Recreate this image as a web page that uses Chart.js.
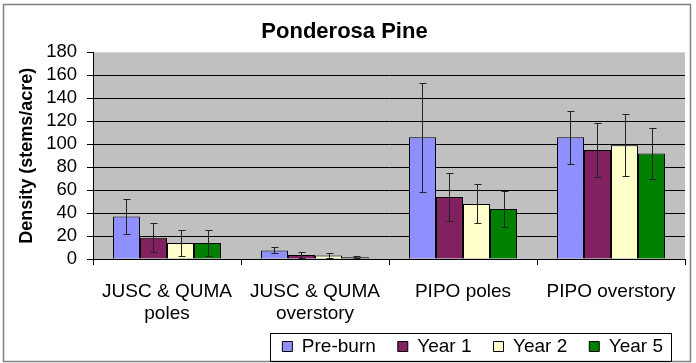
<!DOCTYPE html>
<html>
<head>
<meta charset="utf-8">
<script src="https://cdn.jsdelivr.net/npm/chart.js@4"></script>
<style>
  body { margin: 0; background: #fff; }
  #wrap { width: 696px; height: 363px; }
</style>
</head>
<body>
<div id="wrap"><canvas id="myChart" width="696" height="363"></canvas></div>
<script>
'use strict';

let categories = [['JUSC & QUMA', 'poles'], ['JUSC & QUMA', 'overstory'], 'PIPO poles', 'PIPO overstory'];
let seriesNames = ['Pre-burn', 'Year 1', 'Year 2', 'Year 5'];

let preBurn = [37, 7.5, 106, 106];
let year1 = [18.5, 3.5, 54, 95];
let year2 = [14, 3, 48, 99];
let year5 = [14, 1.5, 43.5, 92];

// +/- error amounts
let preBurnErr = [15, 2.7, 47.5, 23];
let year1Err = [12.5, 2.3, 21, 23.5];
let year2Err = [11.5, 2.5, 17, 27];
let year5Err = [11.5, 1, 15.5, 22.5];

let yTicks = [0, 20, 40, 60, 80, 100, 120, 140, 160, 180];

let allValues = [preBurn, year1, year2, year5];
let allErrors = [preBurnErr, year1Err, year2Err, year5Err];
let fills = ['#8f8fff', '#82215f', '#ffffcc', '#008000'];

let FONT = "'Liberation Sans', Arial, sans-serif";

// gray plot area + outer frame
let backdrop = {
  id: 'backdrop',
  afterLayout(chart) {
    // legend sits a bit higher, inside the axis label space
    chart.legend.top -= 8;
    chart.legend.bottom -= 8;
  },
  beforeDraw(chart) {
    let ctx = chart.ctx;
    let a = chart.chartArea;
    ctx.save();
    ctx.fillStyle = '#c0c0c0';
    ctx.fillRect(a.left, a.top, a.right - a.left, a.bottom - a.top);
    ctx.strokeStyle = '#808080';
    ctx.lineWidth = 1.5;
    ctx.strokeRect(3.5, 4.5, 687, 357);
    ctx.restore();
  }
};

let errorBars = {
  id: 'errorBars',
  afterDatasetsDraw(chart) {
    let ctx = chart.ctx;
    let y = chart.scales.y;
    ctx.save();
    ctx.strokeStyle = '#222';
    ctx.lineWidth = 1;
    chart.data.datasets.forEach(function(ds, i) {
      let meta = chart.getDatasetMeta(i);
      meta.data.forEach(function(bar, j) {
        let v = ds.data[j];
        let e = allErrors[i][j];
        let x = Math.round(bar.x) + 0.5;
        let top = Math.round(y.getPixelForValue(v + e)) + 0.5;
        let bot = Math.round(y.getPixelForValue(Math.max(v - e, 0))) + 0.5;
        ctx.beginPath();
        ctx.moveTo(x, top); ctx.lineTo(x, bot);
        ctx.moveTo(x - 3, top); ctx.lineTo(x + 4, top);
        ctx.moveTo(x - 3, bot); ctx.lineTo(x + 4, bot);
        ctx.stroke();
      });
    });
    ctx.restore();
  }
};

// box round the legend
let legendFrame = {
  id: 'legendFrame',
  afterDraw(chart) {
    let hb = chart.legend.legendHitBoxes;
    if (!hb || !hb.length) return;
    let last = hb[hb.length - 1];
    let left = Math.round(hb[0].left - 12) + 0.5;
    let right = Math.round(last.left + last.width + 8) + 0.5;
    let mid = hb[0].top + hb[0].height / 2;
    let ctx = chart.ctx;
    ctx.save();
    ctx.strokeStyle = '#000';
    ctx.lineWidth = 1;
    ctx.strokeRect(left, Math.round(mid - 14) + 0.5, right - left, 28);
    ctx.restore();
  }
};

let datasets = [];
for (let i = 0; i < seriesNames.length; i++) {
  datasets.push({
    label: seriesNames[i],
    data: allValues[i],
    backgroundColor: fills[i],
    borderColor: '#000',
    borderWidth: 1,
    categoryPercentage: 0.73,
    barPercentage: 1
  });
}

let ctx = document.getElementById('myChart').getContext('2d');
let myChart = new Chart(ctx, {
  type: 'bar',
  data: { labels: categories, datasets: datasets },
  plugins: [backdrop, errorBars, legendFrame],
  options: {
    responsive: false,
    animation: false,
    layout: { padding: { left: 4, right: 11, top: 0, bottom: 0 } },
    plugins: {
      title: {
        display: true,
        text: 'Ponderosa Pine',
        color: '#000',
        font: { family: FONT, size: 22, weight: 'bold' },
        padding: { top: 19, bottom: 7 }
      },
      legend: {
        position: 'bottom',
        align: 'end',
        maxHeight: 40,
        labels: {
          color: '#000',
          font: { family: FONT, size: 19 },
          boxWidth: 10,
          boxHeight: 10,
          padding: 22
        }
      },
      tooltip: { enabled: false }
    },
    scales: {
      x: {
        afterFit(scale) { scale.height = 64; },
        grid: {
          offset: true,
          drawOnChartArea: false,
          drawTicks: true,
          tickLength: 6,
          color: '#000'
        },
        border: { color: '#000', width: 1 },
        ticks: {
          color: '#000',
          font: { family: FONT, size: 19 },
          padding: 15,
          maxRotation: 0,
          autoSkip: false
        }
      },
      y: {
        min: yTicks[0],
        max: yTicks[yTicks.length - 1],
        afterFit(scale) { scale.width = 89; },
        afterBuildTicks(scale) { scale.ticks = yTicks.map(function(v) { return { value: v }; }); },
        grid: {
          color: function(c) { return c.tick && c.tick.value === 180 ? 'rgba(0,0,0,0)' : '#000'; },
          tickColor: '#000',
          tickLength: 6,
          lineWidth: 1
        },
        border: { color: '#000', width: 1 },
        ticks: {
          color: '#000',
          font: { family: FONT, size: 18.5 },
          padding: 10,
          autoSkip: false
        },
        title: {
          display: true,
          text: 'Density (stems/acre)',
          color: '#000',
          font: { family: FONT, size: 18, weight: 'bold' },
          padding: { top: 12, bottom: 0 }
        }
      }
    }
  }
});
</script>
</body>
</html>
